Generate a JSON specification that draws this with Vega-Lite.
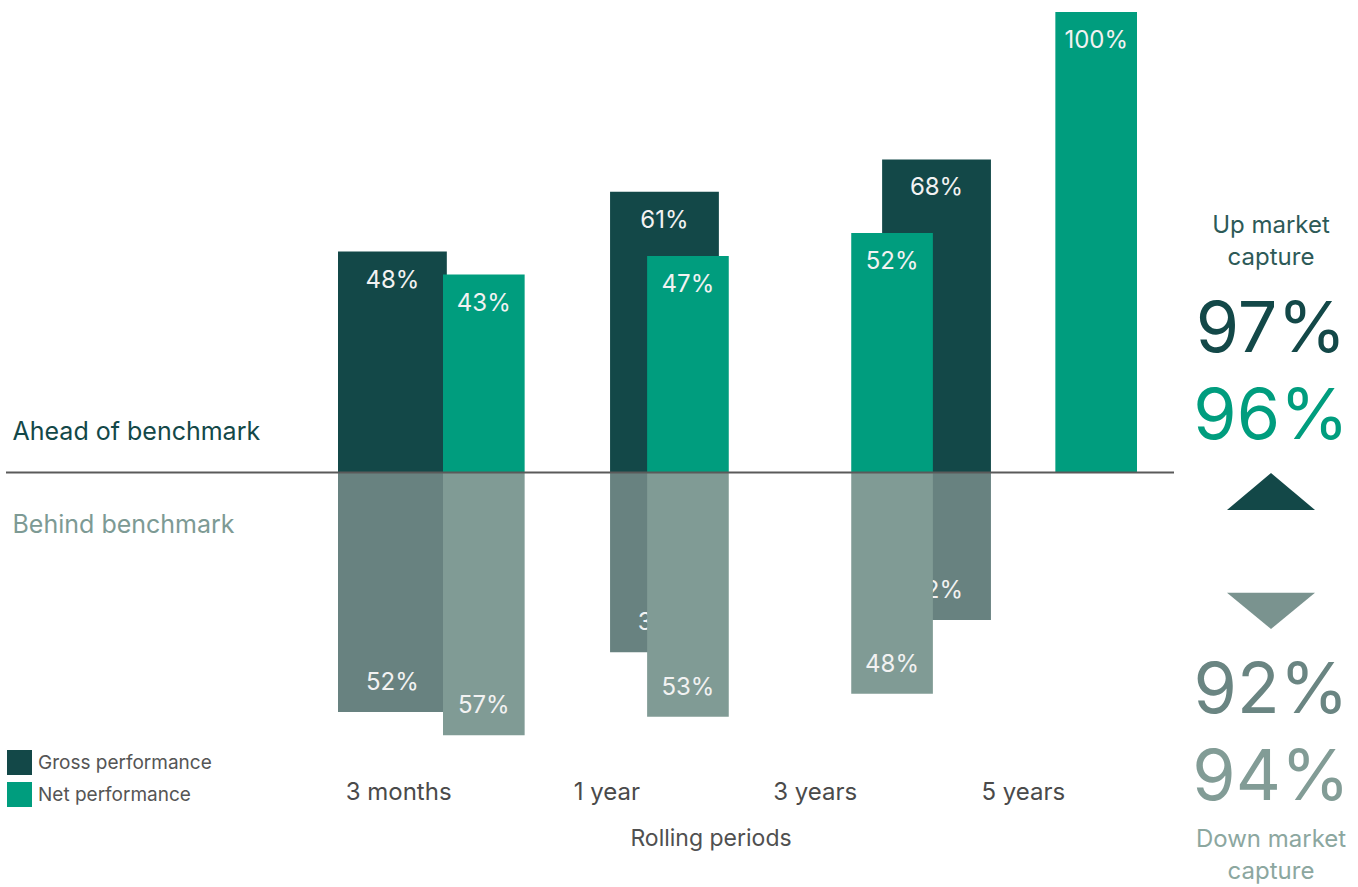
{
  "$schema": "https://vega.github.io/schema/vega-lite/v6.json",
  "padding": {"left": 5, "top": 12, "right": 0, "bottom": 0},
  "autosize": {"type": "pad"},
  "background": "white",
  "spacing": 7,
  "datasets": {
    "perf": [
      {"period": "3 months", "series": "Gross performance", "ahead": 0.48, "behind": 0.52},
      {"period": "3 months", "series": "Net performance", "ahead": 0.43, "behind": 0.57},
      {"period": "1 year", "series": "Gross performance", "ahead": 0.61, "behind": 0.39},
      {"period": "1 year", "series": "Net performance", "ahead": 0.47, "behind": 0.53},
      {"period": "3 years", "series": "Gross performance", "ahead": 0.68, "behind": 0.32},
      {"period": "3 years", "series": "Net performance", "ahead": 0.52, "behind": 0.48},
      {"period": "5 years", "series": "Net performance", "ahead": 1.0, "behind": 0}
    ],
    "capture": [
      {"key": "up_title", "kind": "title", "label": "Up market\ncapture"},
      {"key": "up_gross", "kind": "value", "market": "Up", "series": "Gross performance", "capture": 0.97},
      {"key": "up_net", "kind": "value", "market": "Up", "series": "Net performance", "capture": 0.96},
      {"key": "up_arrow", "kind": "arrow", "market": "Up"},
      {"key": "down_arrow", "kind": "arrow", "market": "Down"},
      {"key": "down_gross", "kind": "value", "market": "Down", "series": "Gross performance", "capture": 0.92},
      {"key": "down_net", "kind": "value", "market": "Down", "series": "Net performance", "capture": 0.94},
      {"key": "down_title", "kind": "title", "label": "Down market\ncapture"}
    ]
  },
  "resolve": {
    "scale": {"color": "independent", "shape": "independent", "x": "independent", "y": "independent"},
    "legend": {"color": "independent", "shape": "independent"}
  },
  "hconcat": [
    {
      "width": 1168,
      "height": 760,
      "data": {"name": "perf"},
      "resolve": {
        "scale": {"x": "independent", "y": "independent"},
        "axis": {"x": "independent", "y": "independent"}
      },
      "layer": [
        {
          "transform": [{"filter": "datum.series === 'Gross performance'"}],
          "encoding": {
            "x": {"field": "period", "type": "nominal", "sort": null,
                  "scale": {"domain": ["3 months", "1 year", "3 years", "5 years"], "range": [332, 1257], "paddingInner": 0.6, "paddingOuter": 0},
                  "axis": null},
            "y": {"field": "ahead", "type": "quantitative", "scale": {"domain": [-0.65, 1], "nice": false}, "axis": null}
          },
          "layer": [
            {"mark": {"type": "bar"},
             "encoding": {"color": {"field": "series", "type": "nominal",
               "scale": {"domain": ["Gross performance", "Net performance"], "range": ["#134848", "#009d7e"]},
               "legend": {"orient": "none", "legendX": 1, "legendY": 738, "title": null, "symbolType": "square", "symbolSize": 625, "symbolStrokeWidth": 0, "labelFontSize": 19, "labelColor": "#555555", "labelLimit": 400, "rowPadding": 7, "labelOffset": 6, "direction": "vertical"}}}},
            {"mark": {"type": "text", "baseline": "middle", "dy": 29, "fontSize": 24, "color": "#f2f2f2"},
             "encoding": {"text": {"field": "ahead", "type": "quantitative", "format": ".0%"}}}
          ]
        },
        {
          "transform": [{"filter": "datum.series === 'Gross performance' && datum.behind > 0"}],
          "encoding": {
            "x": {"field": "period", "type": "nominal", "sort": null,
                  "scale": {"domain": ["3 months", "1 year", "3 years", "5 years"], "range": [332, 1257], "paddingInner": 0.6, "paddingOuter": 0},
                  "axis": null},
            "y": {"field": "behind", "type": "quantitative", "scale": {"domain": [-1, 0.65], "reverse": true, "nice": false}, "axis": null}
          },
          "layer": [
            {"mark": {"type": "bar", "color": "#688280"}},
            {"mark": {"type": "text", "baseline": "middle", "dy": -29, "fontSize": 24, "color": "#f2f2f2"},
             "encoding": {"text": {"field": "behind", "type": "quantitative", "format": ".0%"}}}
          ]
        },
        {
          "transform": [{"filter": "datum.series === 'Net performance'"}],
          "encoding": {
            "x": {"field": "period", "type": "nominal", "sort": null,
                  "scale": {"domain": ["3 months", "1 year", "3 years", "5 years"], "range": [437, 1131], "paddingInner": 0.6, "paddingOuter": 0},
                  "axis": null},
            "y": {"field": "ahead", "type": "quantitative", "scale": {"domain": [-0.65, 1], "nice": false}, "axis": null}
          },
          "layer": [
            {"mark": {"type": "bar"},
             "encoding": {"color": {"field": "series", "type": "nominal",
               "scale": {"domain": ["Gross performance", "Net performance"], "range": ["#134848", "#009d7e"]},
               "legend": {"orient": "none", "legendX": 1, "legendY": 738, "title": null, "symbolType": "square", "symbolSize": 625, "symbolStrokeWidth": 0, "labelFontSize": 19, "labelColor": "#555555", "labelLimit": 400, "rowPadding": 7, "labelOffset": 6, "direction": "vertical"}}}},
            {"mark": {"type": "text", "baseline": "middle", "dy": 29, "fontSize": 24, "color": "#f2f2f2"},
             "encoding": {"text": {"field": "ahead", "type": "quantitative", "format": ".0%"}}}
          ]
        },
        {
          "transform": [{"filter": "datum.series === 'Net performance' && datum.behind > 0"}],
          "encoding": {
            "x": {"field": "period", "type": "nominal", "sort": null,
                  "scale": {"domain": ["3 months", "1 year", "3 years", "5 years"], "range": [437, 1131], "paddingInner": 0.6, "paddingOuter": 0},
                  "axis": null},
            "y": {"field": "behind", "type": "quantitative", "scale": {"domain": [-1, 0.65], "reverse": true, "nice": false}, "axis": null}
          },
          "layer": [
            {"mark": {"type": "bar", "color": "#809b95"}},
            {"mark": {"type": "text", "baseline": "middle", "dy": -29, "fontSize": 24, "color": "#f2f2f2"},
             "encoding": {"text": {"field": "behind", "type": "quantitative", "format": ".0%"}}}
          ]
        },
        {
          "data": {"values": [{"relative": 0}]},
          "mark": {"type": "rule", "color": "#5a5a5a", "strokeWidth": 2},
          "encoding": {
            "y": {"field": "relative", "type": "quantitative", "scale": {"domain": [-0.65, 1], "nice": false},
                  "axis": {"values": [0.09, -0.113], "labelExpr": "datum.value > 0 ? 'Ahead of benchmark' : 'Behind benchmark'",
                           "labelAlign": "left", "labelBaseline": "middle", "labelPadding": -6, "ticks": false, "tickSize": 0,
                           "domain": false, "grid": false, "title": null, "labelFontSize": 25, "labelLimit": 500,
                           "labelColor": {"condition": {"test": "datum.value > 0", "value": "#134848"}, "value": "#7d9a94"}}}
          }
        },
        {
          "mark": {"type": "point", "opacity": 0},
          "encoding": {
            "x": {"field": "period", "type": "nominal", "sort": null,
                  "scale": {"domain": ["3 months", "1 year", "3 years", "5 years"], "range": [288, 1121], "paddingInner": 0, "paddingOuter": 0},
                  "axis": {"title": "Rolling periods", "labelFontSize": 24, "labelColor": "#4a4a4a", "labelPadding": 8,
                           "ticks": false, "domain": false, "grid": false, "labelAngle": 0,
                           "titleFontSize": 23, "titleFontWeight": "normal", "titleColor": "#505050", "titlePadding": 23}}
          }
        }
      ]
    },
    {
      "width": 178,
      "height": 875,
      "data": {"name": "capture"},
      "encoding": {
        "y": {"field": "key", "type": "nominal",
              "scale": {"type": "point", "domain": ["up_title", "up_gross", "up_net", "up_arrow", "down_arrow", "down_gross", "down_net", "down_title"], "range": [230, 844], "padding": 0},
              "axis": null},
        "color": {"field": "key", "type": "nominal",
                  "scale": {"domain": ["up_title", "up_gross", "up_net", "up_arrow", "down_arrow", "down_gross", "down_net", "down_title"],
                            "range": ["#2d5a57", "#134848", "#009d7e", "#134848", "#7a938f", "#6a8582", "#829c96", "#8ca79f"]},
                  "legend": null}
      },
      "layer": [
        {
          "transform": [{"filter": "datum.kind === 'title'"}],
          "mark": {"type": "text", "lineBreak": "\n", "fontSize": 24, "lineHeight": 32, "baseline": "middle", "align": "center", "dy": -16},
          "encoding": {"text": {"field": "label", "type": "nominal"}}
        },
        {
          "transform": [{"filter": "datum.kind === 'value' && datum.market === 'Up'"}],
          "mark": {"type": "text", "fontSize": 70, "baseline": "middle", "align": "center", "dy": 1},
          "encoding": {"text": {"field": "capture", "type": "quantitative", "format": ".0%"}}
        },
        {
          "transform": [{"filter": "datum.kind === 'value' && datum.market === 'Down'"}],
          "mark": {"type": "text", "fontSize": 70, "baseline": "middle", "align": "center", "dy": 11},
          "encoding": {"text": {"field": "capture", "type": "quantitative", "format": ".0%"}}
        },
        {
          "transform": [{"filter": "datum.kind === 'arrow'"}],
          "mark": {"type": "point", "filled": true, "size": 7744, "opacity": 1, "strokeWidth": 0},
          "encoding": {
            "shape": {"field": "key", "type": "nominal",
                      "scale": {"domain": ["up_arrow", "down_arrow"], "range": ["M-1,0.11L0,-0.73L1,0.11Z", "M-1,0L1,0L0,0.82Z"]},
                      "legend": null}
          }
        }
      ]
    }
  ],
  "config": {
    "font": "Inter",
    "view": {"stroke": null},
    "axis": {"labelFont": "Inter", "titleFont": "Inter"},
    "legend": {"labelFont": "Inter"}
  }
}
